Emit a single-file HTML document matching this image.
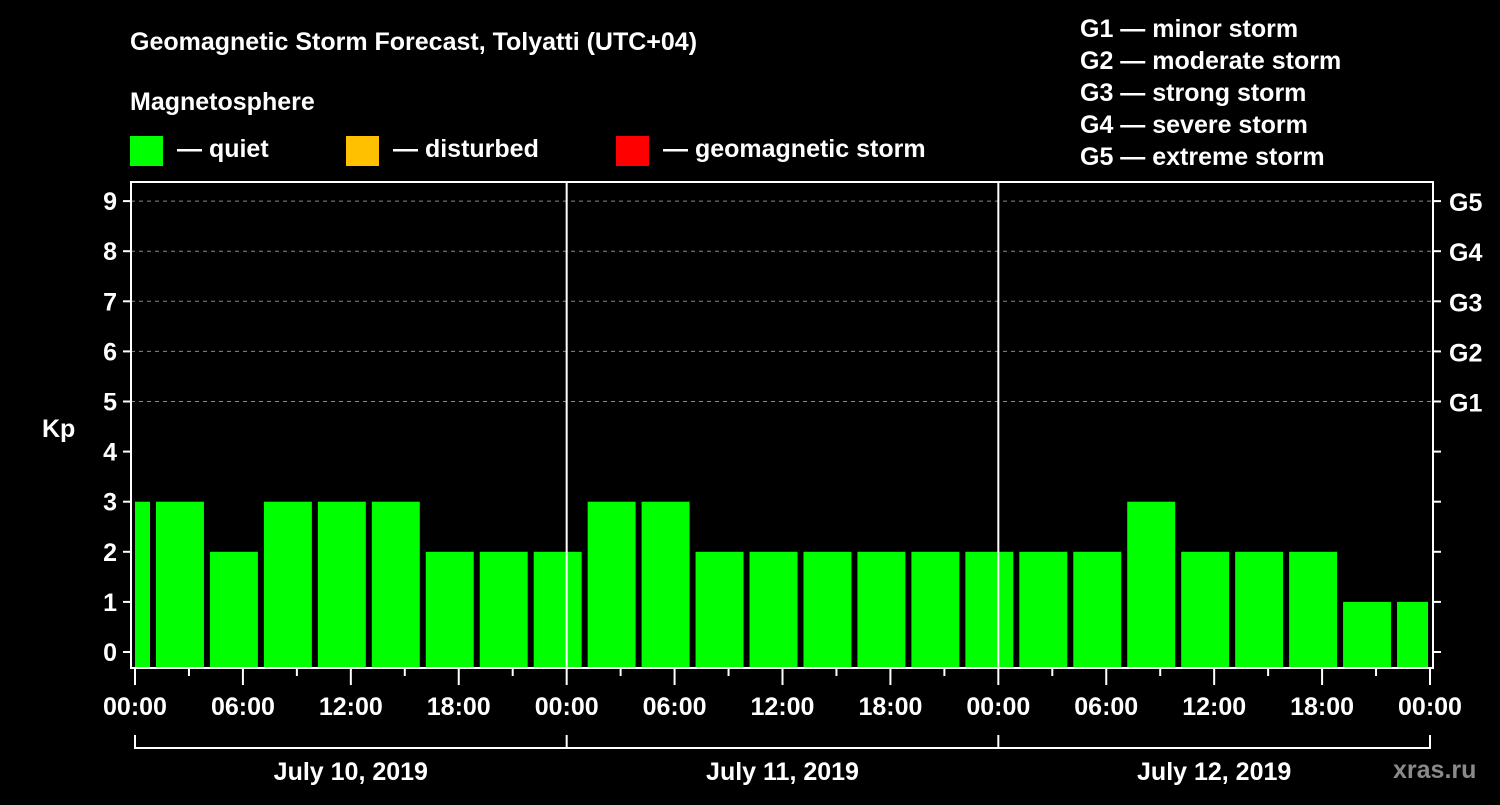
<!DOCTYPE html>
<html><head><meta charset="utf-8"><style>
body{margin:0;background:#000;width:1500px;height:800px;overflow:hidden}
svg text{font-family:"Liberation Sans",Arial,sans-serif;font-weight:bold;fill:#fff}
</style></head><body>
<svg id="chart" width="1500" height="800" xmlns="http://www.w3.org/2000/svg">
<text x="130" y="50" font-size="25">Geomagnetic Storm Forecast, Tolyatti (UTC+04)</text>
<text x="130" y="110" font-size="25">Magnetosphere</text>
<g><rect x="130" y="136" width="33" height="30" fill="#00ff00"/><text x="177" y="157" font-size="25">— quiet</text></g>
<g><rect x="346" y="136" width="33" height="30" fill="#ffc000"/><text x="393" y="157" font-size="25">— disturbed</text></g>
<g><rect x="616" y="136" width="33" height="30" fill="#ff0000"/><text x="663" y="157" font-size="25">— geomagnetic storm</text></g>
<g font-size="25">
<text x="1080" y="37">G1 — minor storm</text>
<text x="1080" y="69">G2 — moderate storm</text>
<text x="1080" y="101">G3 — strong storm</text>
<text x="1080" y="133">G4 — severe storm</text>
<text x="1080" y="165">G5 — extreme storm</text>
</g>
<text x="42" y="437" font-size="25">Kp</text>
<text x="1393" y="778" font-size="25" fill="#888" style="fill:#8a8a8a">xras.ru</text>
<g id="plot"></g>
</svg>
<script>
const kpValues=[3,3,2,3,3,3,2,2,2,3,3,2,2,2,2,2,2,2,2,3,2,2,2,1,1];
const barStartHours=[-2,1,4,7,10,13,16,19,22,25,28,31,34,37,40,43,46,49,52,55,58,61,64,67,70];
const yTicks=[0,1,2,3,4,5,6,7,8,9];
const gLabels=["G1","G2","G3","G4","G5"];
const xTickLabels=["00:00","06:00","12:00","18:00","00:00","06:00","12:00","18:00","00:00","06:00","12:00","18:00","00:00"];
const dayLabels=["July 10, 2019","July 11, 2019","July 12, 2019"];
const NS="http://www.w3.org/2000/svg";
const g=document.getElementById('plot');
const L=131,R=1433,T=182,B=668;
const x=h=>135+h*(1295/72);
const y=v=>652-v*50.1;
function mk(tag,attrs,text){const e=document.createElementNS(NS,tag);for(const k in attrs)e.setAttribute(k,attrs[k]);if(text!==undefined)e.textContent=text;g.appendChild(e);return e;}
// grid
[5,6,7,8,9].forEach(v=>{const e=mk('line',{x1:L,x2:R,y1:y(v),y2:y(v),stroke:'#888','stroke-dasharray':'4,4','stroke-width':1});

});
// bars
kpValues.forEach((v,i)=>{const h0=Math.max(0,barStartHours[i]),h1=Math.min(72,barStartHours[i]+3);
let x0=x(h0)+(barStartHours[i]<0?0:3),x1=x(h1)-(barStartHours[i]+3>72?2:3);
const col=v>=5?'#ff0000':(v>=4?'#ffc000':'#00ff00');
const r=mk('rect',{x:x0,y:y(v),width:x1-x0,height:B-y(v),fill:col});

});
// frame
const f=mk('rect',{x:L,y:T,width:R-L,height:B-T,fill:'none',stroke:'#fff','stroke-width':2});


[24,48].forEach(h=>{const e=mk('line',{x1:x(h),x2:x(h),y1:T,y2:B,stroke:'#fff','stroke-width':2});

});
// y ticks
yTicks.forEach(v=>{mk('line',{x1:L-8,x2:L,y1:y(v),y2:y(v),stroke:'#fff','stroke-width':2});
mk('line',{x1:R,x2:R+8,y1:y(v),y2:y(v),stroke:'#fff','stroke-width':2});
const t=mk('text',{x:117,y:y(v)+9,'font-size':25,'text-anchor':'end'},String(v));

});
gLabels.forEach((s,i)=>{const t=mk('text',{x:1449,y:y(5+i)+10,'font-size':25},s);

});
// x ticks
for(let h=0;h<=72;h+=3){const major=h%6===0;mk('line',{x1:x(h),x2:x(h),y1:B,y2:B+(major?17:8),stroke:'#fff','stroke-width':2});}
xTickLabels.forEach((s,i)=>{const t=mk('text',{x:x(i*6),y:715,'font-size':25,'text-anchor':'middle'},s);

});
// day bracket
mk('line',{x1:x(0),x2:x(72),y1:748,y2:748,stroke:'#fff','stroke-width':2});
[0,24,48,72].forEach(h=>mk('line',{x1:x(h),x2:x(h),y1:735,y2:749,stroke:'#fff','stroke-width':2}));
dayLabels.forEach((s,i)=>{const t=mk('text',{x:x(i*24+12),y:780,'font-size':25,'text-anchor':'middle'},s);

});
</script>
</body></html>
